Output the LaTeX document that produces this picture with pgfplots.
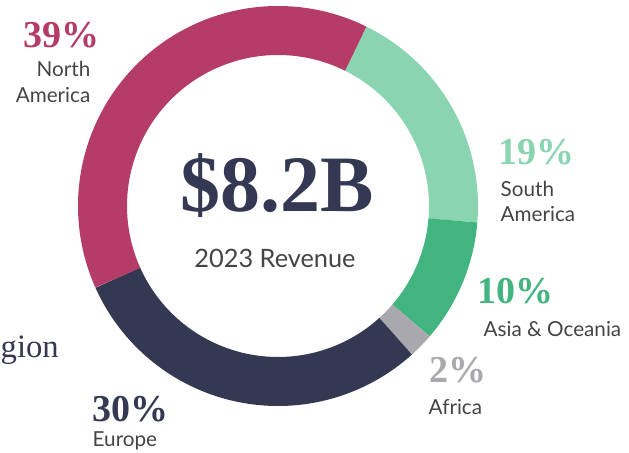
\documentclass[border=0pt]{standalone}
\usepackage{pgfplots}
\pgfplotsset{compat=1.18}
\usepackage{fontspec}
\setmainfont{Liberation Serif}
\newfontfamily\lab{Lato}

\definecolor{crimson}{HTML}{B43C67}
\definecolor{mint}{HTML}{8AD4B2}
\definecolor{jade}{HTML}{42B47F}
\definecolor{stone}{HTML}{A9A9AD}
\definecolor{navy}{HTML}{343852}
\definecolor{txt}{HTML}{444444}

\newcommand{\pct}[1]{\fontsize{28.5}{28.5}\selectfont\bfseries #1}
\newcommand{\lbl}[1]{\lab\fontsize{15.5}{15.5}\selectfont\color{txt}#1}

\begin{document}
\begin{tikzpicture}
\begin{axis}[
  width=471.75pt, height=339.75pt, scale only axis,
  xmin=0, xmax=629, ymin=0, ymax=453,
  hide axis, clip=false,
  every node/.style={inner sep=0pt},
]
% shares in percent, clockwise from 63.7 deg: SA 19, Asia & Oceania 10, Africa 2, Europe 30, North America 39
\addplot[draw=mint, line width=36.75pt, domain=-4.7:63.7, samples=120, variable=\s]
  ({278+175.5*cos(\s)},{247+175.5*sin(\s)});
\addplot[draw=jade, line width=36.75pt, domain=-40.7:-4.7, samples=80, variable=\s]
  ({278+175.5*cos(\s)},{247+175.5*sin(\s)});
\addplot[draw=stone, line width=36.75pt, domain=-47.9:-40.7, samples=20, variable=\s]
  ({278+175.5*cos(\s)},{247+175.5*sin(\s)});
\addplot[draw=navy, line width=36.75pt, domain=-155.9:-47.9, samples=150, variable=\s]
  ({278+175.5*cos(\s)},{247+175.5*sin(\s)});
\addplot[draw=crimson, line width=36.75pt, domain=-296.3:-155.9, samples=180, variable=\s]
  ({278+175.5*cos(\s)},{247+175.5*sin(\s)});

\node[anchor=base, text=navy] at (axis cs:277,241) {\fontsize{60}{60}\selectfont\bfseries \$8.2B};
\node[anchor=base] at (axis cs:275,185) {\lab\fontsize{19}{19}\selectfont\color{txt}2023 Revenue};

\node[anchor=base east, text=crimson] at (axis cs:104,405) {\pct{39\%}};
\node[anchor=base east] at (axis cs:95,376) {\lbl{North}};
\node[anchor=base east] at (axis cs:95,350) {\lbl{America}};

\node[anchor=base west, text=mint] at (axis cs:494,288) {\pct{19\%}};
\node[anchor=base west] at (axis cs:496,256) {\lbl{South}};
\node[anchor=base west] at (axis cs:496,231) {\lbl{America}};

\node[anchor=base west, text=jade] at (axis cs:473,149) {\pct{10\%}};
\node[anchor=base west] at (axis cs:479,116) {\lbl{Asia \& Oceania}};

\node[anchor=base west, text=stone] at (axis cs:425,70) {\pct{2\%}};
\node[anchor=base west] at (axis cs:424,38) {\lbl{Africa}};

\node[anchor=base west, text=navy] at (axis cs:88,31) {\pct{30\%}};
\node[anchor=base west] at (axis cs:88,6) {\lbl{Europe}};

\node[anchor=base west, text=navy] at (axis cs:-4,95) {\fontsize{24.5}{24.5}\selectfont gion};
\end{axis}
\pgfresetboundingbox
\useasboundingbox (0,0) rectangle (471.75pt,339.75pt);
\end{tikzpicture}
\end{document}
